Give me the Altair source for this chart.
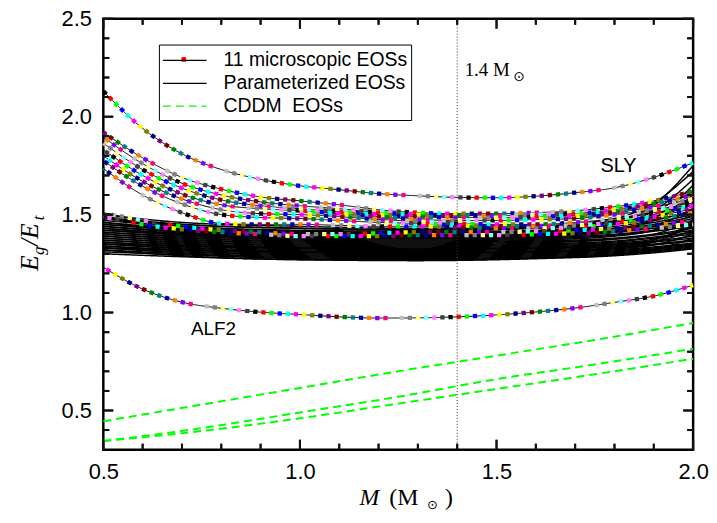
import altair as alt
import pandas as pd

# ---------------- data ----------------
M_MICRO = [0.5, 0.6, 0.7, 0.8, 0.9, 1.0, 1.1, 1.2, 1.3, 1.4, 1.5, 1.6, 1.7, 1.8, 1.9, 2.0]
SLY  = [2.13, 1.94, 1.81, 1.73, 1.68, 1.647, 1.627, 1.607, 1.596, 1.588, 1.586, 1.594, 1.612, 1.637, 1.69, 1.765]
ALF2 = [1.231, 1.12, 1.053, 1.022, 1.002, 0.99, 0.978, 0.972, 0.973, 0.978, 0.988, 1.003, 1.023, 1.052, 1.084, 1.14]
MIC3 = [1.92, 1.79, 1.69, 1.63, 1.59, 1.57, 1.55, 1.525, 1.51, 1.505, 1.505, 1.51, 1.52, 1.54, 1.57, 1.62]
MIC4 = [1.895, 1.76, 1.66, 1.60, 1.565, 1.545, 1.53, 1.51, 1.50, 1.495, 1.495, 1.50, 1.505, 1.525, 1.555, 1.60]
MIC5 = [1.865, 1.73, 1.635, 1.575, 1.545, 1.53, 1.515, 1.50, 1.49, 1.485, 1.485, 1.49, 1.495, 1.51, 1.54, 1.58]
MIC6 = [1.83, 1.70, 1.605, 1.55, 1.53, 1.52, 1.505, 1.49, 1.475, 1.47, 1.47, 1.475, 1.48, 1.50, 1.525, 1.56]
MIC7 = [1.80, 1.67, 1.58, 1.525, 1.505, 1.50, 1.49, 1.475, 1.465, 1.455, 1.45, 1.45, 1.46, 1.48, 1.51, 1.545]
MIC8 = [1.775, 1.645, 1.555, 1.50, 1.485, 1.48, 1.47, 1.46, 1.455, 1.445, 1.44, 1.44, 1.445, 1.46, 1.49, 1.53]
MIC9 = [1.735, 1.60, 1.51, 1.455, 1.45, 1.45, 1.445, 1.44, 1.44, 1.435, 1.43, 1.43, 1.435, 1.45, 1.475, 1.51]
MIC10 = [1.51, 1.47, 1.44, 1.42, 1.41, 1.40, 1.40, 1.405, 1.41, 1.41, 1.41, 1.415, 1.42, 1.43, 1.445, 1.47]
MIC11 = [1.49, 1.45, 1.425, 1.41, 1.40, 1.39, 1.39, 1.39, 1.395, 1.395, 1.395, 1.40, 1.405, 1.415, 1.43, 1.45]
MICRO = {"SLY": SLY, "ALF2": ALF2, "MIC3": MIC3, "MIC4": MIC4, "MIC5": MIC5, "MIC6": MIC6,
         "MIC7": MIC7, "MIC8": MIC8, "MIC9": MIC9, "MIC10": MIC10, "MIC11": MIC11}

M_PARAM = [0.5, 0.7, 1.0, 1.3, 1.6, 1.8, 1.9, 2.0]
PARAM = [
    [1.50, 1.46, 1.44, 1.43, 1.44, 1.47, 1.52, 1.62],
    [1.49, 1.45, 1.43, 1.425, 1.44, 1.48, 1.56, 1.72],
    [1.48, 1.44, 1.42, 1.415, 1.43, 1.46, 1.50, 1.58],
    [1.47, 1.44, 1.415, 1.41, 1.42, 1.45, 1.49, 1.55],
    [1.46, 1.43, 1.41, 1.405, 1.415, 1.44, 1.47, 1.52],
    [1.45, 1.42, 1.40, 1.40, 1.41, 1.43, 1.46, 1.50],
    [1.44, 1.415, 1.40, 1.395, 1.405, 1.43, 1.47, 1.60],
    [1.44, 1.41, 1.395, 1.39, 1.40, 1.42, 1.45, 1.49],
    [1.43, 1.405, 1.39, 1.385, 1.395, 1.415, 1.44, 1.48],
    [1.43, 1.40, 1.385, 1.38, 1.39, 1.41, 1.43, 1.46],
    [1.42, 1.40, 1.38, 1.375, 1.385, 1.41, 1.44, 1.53],
    [1.42, 1.395, 1.375, 1.37, 1.38, 1.40, 1.42, 1.45],
    [1.41, 1.39, 1.37, 1.365, 1.375, 1.395, 1.415, 1.44],
    [1.41, 1.385, 1.365, 1.36, 1.37, 1.39, 1.42, 1.50],
    [1.40, 1.38, 1.36, 1.355, 1.365, 1.38, 1.40, 1.43],
    [1.40, 1.375, 1.355, 1.35, 1.36, 1.375, 1.395, 1.42],
    [1.39, 1.37, 1.35, 1.345, 1.355, 1.375, 1.40, 1.47],
    [1.39, 1.365, 1.345, 1.34, 1.35, 1.365, 1.385, 1.41],
    [1.38, 1.36, 1.34, 1.335, 1.345, 1.36, 1.38, 1.40],
    [1.38, 1.355, 1.335, 1.33, 1.34, 1.355, 1.375, 1.44],
    [1.37, 1.35, 1.33, 1.325, 1.335, 1.35, 1.365, 1.39],
    [1.37, 1.345, 1.325, 1.32, 1.33, 1.345, 1.36, 1.38],
    [1.36, 1.34, 1.32, 1.315, 1.325, 1.34, 1.36, 1.42],
    [1.36, 1.335, 1.315, 1.31, 1.32, 1.335, 1.35, 1.37],
    [1.35, 1.33, 1.31, 1.305, 1.315, 1.33, 1.345, 1.365],
    [1.35, 1.325, 1.305, 1.30, 1.31, 1.325, 1.345, 1.40],
    [1.34, 1.32, 1.30, 1.295, 1.305, 1.32, 1.335, 1.355],
    [1.34, 1.315, 1.295, 1.29, 1.30, 1.315, 1.33, 1.35],
    [1.33, 1.31, 1.29, 1.285, 1.295, 1.31, 1.325, 1.345],
    [1.33, 1.305, 1.285, 1.28, 1.29, 1.305, 1.32, 1.34],
    [1.32, 1.30, 1.28, 1.275, 1.285, 1.30, 1.315, 1.335],
    [1.31, 1.295, 1.275, 1.27, 1.28, 1.295, 1.31, 1.33],
    [1.33, 1.32, 1.31, 1.305, 1.31, 1.33, 1.36, 1.45],
    [1.46, 1.42, 1.39, 1.38, 1.39, 1.42, 1.48, 1.65],
    [1.35, 1.34, 1.33, 1.325, 1.33, 1.345, 1.37, 1.46],
    [1.45, 1.425, 1.405, 1.40, 1.415, 1.45, 1.52, 1.68],
    [1.48, 1.45, 1.43, 1.42, 1.435, 1.47, 1.55, 1.75],
    [1.32, 1.29, 1.27, 1.265, 1.275, 1.29, 1.305, 1.325],
    [1.30, 1.285, 1.27, 1.268, 1.278, 1.295, 1.32, 1.38],
]

M_CDDM = [0.5, 0.75, 1.0, 1.25, 1.5, 1.75, 2.0]
CDDM1 = [0.445, 0.53, 0.615, 0.70, 0.78, 0.86, 0.947]
CDDM2 = [0.343, 0.41, 0.49, 0.57, 0.66, 0.735, 0.815]
CDDM3 = [0.345, 0.395, 0.46, 0.535, 0.61, 0.685, 0.764]

GROUPS = ["11 microscopic EOSs", "Parameterized EOSs", "CDDM\u00a0 EOSs"]

X_MAJOR = [0.5, 1.0, 1.5, 2.0]
X_MINOR = [0.6, 0.7, 0.8, 0.9, 1.1, 1.2, 1.3, 1.4, 1.6, 1.7, 1.8, 1.9]
Y_MAJOR = [0.5, 1.0, 1.5, 2.0, 2.5]
Y_MINOR = [0.4, 0.6, 0.7, 0.8, 0.9, 1.1, 1.2, 1.3, 1.4, 1.6, 1.7, 1.8, 1.9, 2.1, 2.2, 2.3, 2.4]
M_REF = [1.4]

# Origin-style marker colour cycle ("white" slot left empty)
PALETTE = ["#000000", "#FF0000", "#00FF00", "#0000FF", "#00FFFF", "#FF00FF", "#FFFF00", "#808000",
           "#000080", "#800080", "#800000", "#008000", "#008080", "#0000A0", "#FF8000", "#8000FF",
           "#FF0080", None, "#C0C0C0", "#808080", "#FFFF80", "#80FFFF", "#FF80FF", "#404040"]

# ---------------- tables ----------------
STEP = 8.2
PERIOD = STEP * len(PALETTE)
MARK = 4.3
micro_df = pd.DataFrame([
    {"curve": name, "group": GROUPS[0], "M": m, "E": e, "phase": (i * 37.3) % PERIOD}
    for i, (name, vals) in enumerate(MICRO.items()) for m, e in zip(M_MICRO, vals)
])
param_df = pd.DataFrame([
    {"curve": f"P{i}", "group": GROUPS[1], "M": m, "E": e}
    for i, vals in enumerate(PARAM) for m, e in zip(M_PARAM, vals)
])
cddm_df = pd.DataFrame([
    {"curve": name, "group": GROUPS[2], "M": m, "E": e}
    for name, vals in [("C1", CDDM1), ("C2", CDDM2), ("C3", CDDM3)] for m, e in zip(M_CDDM, vals)
])

W, H = 594, 434
SANS = "Liberation Sans, Arial, sans-serif"
SERIF = "Liberation Serif, DejaVu Serif, serif"

x_scale = alt.Scale(domain=[0.5, 2.0], nice=False, zero=False)
y_scale = alt.Scale(domain=[0.3, 2.5], nice=False, zero=False)
x_axis = alt.Axis(values=X_MAJOR, format=".1f", title=None, labelPadding=12, labelFlush=False)
y_axis = alt.Axis(values=Y_MAJOR, format=".1f", title=None, labelPadding=12, labelFlush=False)

legend = alt.Legend(title=None, orient="none", legendX=56, legendY=26,
                    symbolType="M-2,0H2", symbolSize=484, symbolOffset=10, symbolStrokeWidth=1.3,
                    labelFont=SANS, labelFontSize=19.5, labelColor="black", labelLimit=400,
                    strokeColor="black", padding=4, rowPadding=1, labelOffset=27)
color_enc = alt.Color("group:N", scale=alt.Scale(domain=GROUPS, range=["black", "black", "#00FF00"]),
                      legend=legend)
dash_enc = alt.StrokeDash("group:N", scale=alt.Scale(domain=GROUPS, range=[[1, 0], [1, 0], [8, 5]]),
                          legend=legend)

X_ENC = alt.X("M:Q", scale=x_scale, axis=x_axis)
Y_ENC = alt.Y("E:Q", scale=y_scale, axis=y_axis)

param_layer = alt.Chart(param_df).mark_line(strokeWidth=1.5, interpolate="monotone").encode(
    x=X_ENC, y=Y_ENC, detail="curve:N", color=color_enc, strokeDash=dash_enc)
micro_layer = alt.Chart(micro_df).mark_line(strokeWidth=1, interpolate="monotone").encode(
    x=X_ENC, y=Y_ENC, detail="curve:N", color=color_enc, strokeDash=dash_enc)

marker_layers = []
for k, col in enumerate(PALETTE):
    if col is None:
        continue
    marker_layers.append(
        alt.Chart(micro_df).mark_line(
            strokeWidth=MARK, interpolate="monotone", color=col,
            strokeDash=[MARK, PERIOD - MARK],
            strokeDashOffset=alt.ExprRef(expr=f"datum.phase - {k * STEP}"))
        .encode(x=X_ENC, y=Y_ENC, detail="curve:N")
    )

cddm_layer = alt.Chart(cddm_df).mark_line(strokeWidth=2, interpolate="monotone").encode(
    x=X_ENC, y=Y_ENC, detail="curve:N", color=color_enc, strokeDash=dash_enc)

ref_layer = alt.Chart(pd.DataFrame({"M": M_REF})).mark_rule(
    color="#333333", strokeWidth=1, strokeDash=[1, 2]).encode(x=X_ENC)

# inward axis ticks on all four sides, through the scales
def yticks(vals, length):
    df = pd.DataFrame({"E": vals})
    rule = alt.Chart(df).mark_rule(
        color="#111111", strokeWidth=2, strokeDash=[length, W - 2 * length]).encode(y=Y_ENC)
    pts = alt.Chart(df).mark_point(shape="M-1,0H1", size=length * length, filled=False,
                                   color="#111111", strokeWidth=2, opacity=1)
    return [rule,
            pts.encode(y=Y_ENC, x=alt.value(length / 2)),
            pts.encode(y=Y_ENC, x=alt.value(W - length / 2))]

def xticks(vals, length):
    df = pd.DataFrame({"M": vals})
    rule = alt.Chart(df).mark_rule(
        color="#111111", strokeWidth=2, strokeDash=[length, H - 2 * length]).encode(x=X_ENC)
    pts = alt.Chart(df).mark_point(shape="M0,-1V1", size=length * length, filled=False,
                                   color="#111111", strokeWidth=2, opacity=1)
    return [rule,
            pts.encode(x=X_ENC, y=alt.value(H - length / 2)),
            pts.encode(x=X_ENC, y=alt.value(length / 2))]

tick_layers = yticks(Y_MAJOR, 10) + yticks(Y_MINOR, 6) + xticks(X_MAJOR, 10) + xticks(X_MINOR, 6)

def piece(text, px, py, size, font, style="normal", angle=0):
    return alt.Chart(pd.DataFrame({"t": [text]})).mark_text(
        align="left", baseline="alphabetic", fontSize=size, font=font, fontStyle=style,
        angle=angle, color="black").encode(text="t:N", x=alt.value(px), y=alt.value(py))

def label(text, m, e, size, font, dx=0, dy=0, align="center", baseline="middle"):
    return alt.Chart(pd.DataFrame({"t": [text], "M": [m], "E": [e]})).mark_text(
        align=align, baseline=baseline, fontSize=size, font=font, color="black", dx=dx, dy=dy
    ).encode(text="t:N", x=X_ENC, y=Y_ENC)

texts = [
    label("SLY", 1.81, 1.746, 20, SANS),
    label("ALF2", 0.78, 0.914, 19, SANS),
    label("1.4 M", 1.419, 2.21, 19, SERIF, align="left", baseline="alphabetic"),
    label("\u2299", 1.419, 2.21, 14, "DejaVu Sans", dx=49, dy=5, align="left", baseline="alphabetic"),
    # x-axis title  M (M_sun)
    piece("M", 258, 490, 24, SERIF, "italic"),
    piece("(M", 288, 490, 24, SERIF),
    piece("\u2299", 326, 494, 13, "DejaVu Sans"),
    piece(")", 344, 490, 24, SERIF),
    # y-axis title  E_g / E_t
    piece("E", -66, 254, 26, SERIF, "italic", 270),
    piece("g", -60, 238, 17, SERIF, "italic", 270),
    piece("/E", -66, 229, 26, SERIF, "italic", 270),
    piece("t", -60, 203, 17, SERIF, "italic", 270),
]

legend_marker = alt.Chart(pd.DataFrame({"t": ["m"]})).mark_square(
    color="#FF0000", size=22, opacity=1).encode(x=alt.value(81), y=alt.value(41))

main = alt.layer(param_layer, micro_layer, *marker_layers, cddm_layer, ref_layer, *texts, legend_marker)
ticks = alt.layer(*tick_layers)

chart = alt.layer(main, ticks).properties(
    width=W, height=H, autosize="none",
    padding={"left": 96, "top": 9, "right": 16, "bottom": 64},
).configure_view(
    stroke="black", strokeWidth=2.5
).configure_axis(
    domain=False, ticks=False, tickSize=0, grid=False, labelFont=SANS, labelFontSize=22,
    labelColor="black"
)

chart.save("out.html", embed_options={"renderer": "svg", "actions": False})
